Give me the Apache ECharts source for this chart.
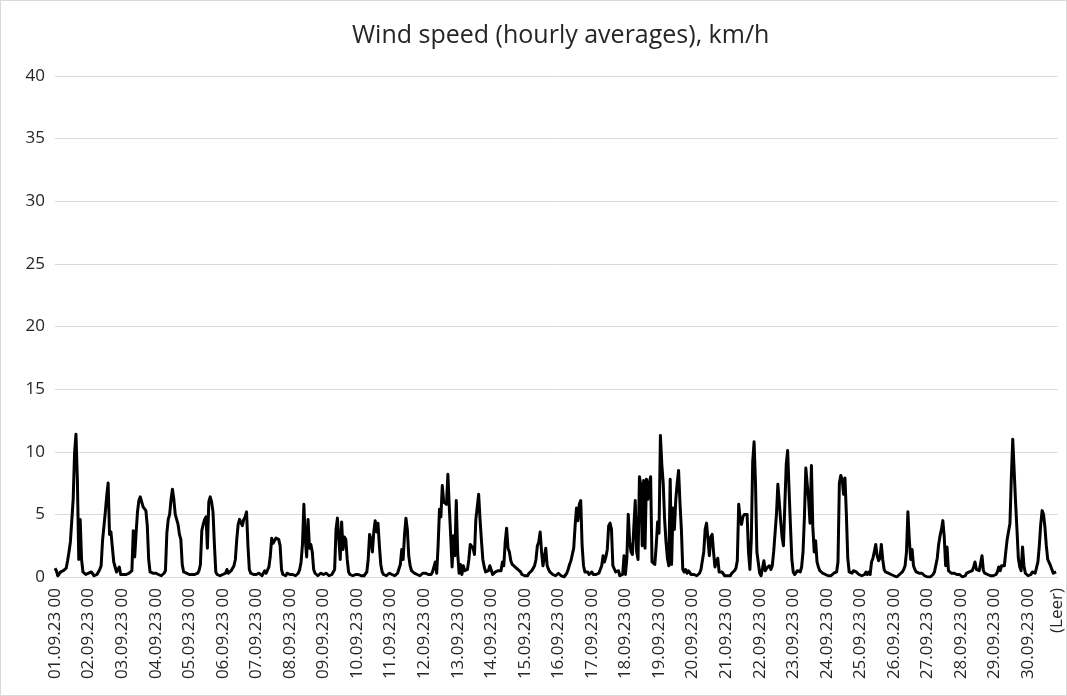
<!DOCTYPE html>
<html>
<head>
<meta charset="utf-8">
<script src="https://cdn.jsdelivr.net/npm/echarts@6/dist/echarts.min.js"></script>
<style>
html,body{margin:0;padding:0;background:#fff;}
#chart{width:1067px;height:696px;box-sizing:border-box;border:1px solid #d9d9d9;}
</style>
</head>
<body>
<div id="chart"></div>
<script>
const titleText = "Wind speed (hourly averages), km/h";
const dayLabels = ["01","02","03","04","05","06","07","08","09","10","11","12","13","14","15",
  "16","17","18","19","20","21","22","23","24","25","26","27","28","29","30"];
const emptyLabel = "(Leer)";
const yTicks = { min: 0, max: 40, interval: 5 };

// hourly averages per day (km/h), hours 00..23
const day01 = [0.7,0.5,0.1,0.2,0.4,0.5,0.5,0.5,0.7,1.3,2.0,2.8,4.5,6.2,9.9,11.4,7.8,1.4,4.6,1.4,0.4,0.3,0.2,0.2];
const day02 = [0.3,0.2,0.4,0.3,0.1,0.1,0.2,0.3,0.6,0.9,2.9,3.0,5.2,6.5,7.5,3.4,3.6,3.6,1.2,0.8,0.4,0.3,0.8,0.2];
const day03 = [0.2,0.2,0.1,0.2,0.3,0.3,0.4,0.5,3.7,1.6,3.5,5.2,6.1,6.4,6.5,5.6,5.5,5.3,4.1,1.4,0.4,0.3,0.3,0.3];
const day04 = [0.3,0.3,0.2,0.2,0.1,0.2,0.3,0.5,3.5,4.6,5.0,6.2,7.0,6.2,5.0,4.9,4.2,3.4,3.0,1.0,0.4,0.3,0.3,0.2];
const day05 = [0.2,0.3,0.2,0.1,0.2,0.2,0.3,0.5,1.0,3.7,4.2,4.6,4.8,2.3,6.0,6.4,6.0,5.2,2.6,0.4,0.2,0.2,0.1,0.2];
const day06 = [0.2,0.3,0.3,0.6,0.3,0.4,0.5,0.5,0.9,1.4,3.0,4.2,4.6,4.7,4.1,4.6,4.8,5.2,2.5,0.6,0.3,0.2,0.2,0.3];
const day07 = [0.2,0.2,0.3,0.2,0.1,0.2,0.5,0.3,0.3,0.8,1.7,3.1,2.7,2.6,3.1,3.2,3.0,2.5,0.6,0.2,0.2,0.1,0.3,0.2];
const day08 = [0.2,0.3,0.2,0.2,0.1,0.2,0.3,0.6,1.2,2.6,5.8,3.0,1.6,4.6,2.3,2.6,2.0,0.6,0.3,0.2,0.1,0.2,0.3,0.2];
const day09 = [0.2,0.2,0.3,0.2,0.1,0.0,0.2,0.4,0.6,3.8,4.7,3.0,1.4,4.4,2.2,3.2,3.0,1.4,0.4,0.2,0.2,0.1,0.1,0.2];
const day10 = [0.3,0.2,0.2,0.1,0.1,0.1,0.2,0.4,1.4,3.4,3.0,2.0,3.6,4.5,3.6,4.3,2.5,1.0,0.4,0.2,0.1,0.1,0.2,0.3];
const day11 = [0.2,0.2,0.1,0.1,0.2,0.3,0.4,1.0,2.2,1.4,3.4,4.7,3.8,1.7,0.9,0.5,0.4,0.3,0.2,0.2,0.2,0.1,0.2,0.3];
const day12 = [0.2,0.3,0.4,0.2,0.1,0.2,0.4,0.5,1.2,0.3,2.5,5.4,4.8,7.3,6.0,5.9,5.8,8.2,5.6,3.3,0.8,3.3,1.7,6.1];
const day13 = [1.9,0.3,1.0,0.2,0.9,0.5,0.5,0.6,1.4,2.6,2.6,2.3,1.8,4.6,4.6,6.6,4.6,2.9,1.4,0.8,0.4,0.4,0.5,0.9];
const day14 = [0.9,0.2,0.3,0.4,0.5,0.5,0.4,0.5,1.2,0.9,2.8,3.9,2.3,2.0,1.3,1.0,0.9,0.8,0.7,0.6,0.5,0.4,0.2,0.1];
const day15 = [0.1,0.0,0.1,0.3,0.4,0.5,0.4,0.9,1.4,2.5,2.8,3.6,2.0,0.9,0.9,2.3,0.9,0.6,0.4,0.3,0.2,0.2,0.1,0.1];
const day16 = [0.3,0.2,0.1,0.1,0.0,0.1,0.3,0.6,1.0,1.3,1.2,2.3,4.1,5.5,4.5,5.8,6.1,2.5,0.9,0.4,0.4,0.4,0.2,0.3];
const day17 = [0.4,0.2,0.2,0.2,0.2,0.3,0.3,0.9,1.7,1.2,1.6,2.2,4.1,4.3,3.8,0.9,0.8,0.4,0.5,0.5,0.1,0.1,0.2,1.7];
const day18 = [0.2,1.5,5.0,2.8,2.0,1.8,4.0,6.1,2.0,1.4,8.0,7.3,2.5,7.7,2.3,7.8,6.2,7.5,8.0,1.2,1.1,1.0,2.5,4.4];
const day19 = [3.5,11.3,9.0,7.5,4.6,2.8,1.5,0.9,7.8,1.0,5.5,3.8,6.2,7.5,8.5,5.9,3.8,0.6,0.4,0.6,0.3,0.5,0.4,0.2];
const day20 = [0.1,0.2,0.2,0.1,0.2,0.3,0.6,1.3,2.0,3.8,4.3,3.0,1.7,3.2,3.4,2.0,0.8,1.2,1.5,0.4,0.3,0.4,0.3,0.1];
const day21 = [0.2,0.1,0.0,0.1,0.3,0.4,0.5,0.7,1.3,5.8,4.7,4.2,4.8,5.0,5.1,5.0,2.0,0.6,3.0,9.2,10.8,7.5,2.0,1.9];
const day22 = [0.3,0.1,0.1,1.3,0.5,0.7,0.8,0.9,0.6,0.9,2.0,3.5,5.0,7.4,6.0,4.5,3.2,2.5,5.8,9.0,10.1,7.0,4.1,1.4];
const day23 = [0.4,0.2,0.3,0.5,0.6,0.4,0.8,2.0,4.8,8.7,7.4,6.2,4.3,8.9,4.0,2.0,2.9,1.2,0.8,0.5,0.4,0.3,0.2,0.2];
const day24 = [0.1,0.1,0.1,0.1,0.2,0.3,0.3,0.4,1.2,7.5,8.1,7.8,6.6,7.9,5.0,1.5,0.4,0.5,0.3,0.5,0.5,0.4,0.3,0.2];
const day25 = [0.1,0.1,0.1,0.2,0.4,0.2,0.4,0.2,1.2,1.5,1.6,2.6,1.7,1.3,1.5,2.6,1.4,0.6,0.4,0.3,0.3,0.4,0.2,0.1];
const day26 = [0.1,0.0,0.0,0.1,0.2,0.3,0.4,0.6,0.9,2.0,5.2,3.0,1.4,2.2,0.9,0.6,0.4,0.5,0.3,0.4,0.3,0.2,0.1,0.0];
const day27 = [0.0,0.0,0.0,0.1,0.2,0.4,0.5,1.5,2.6,3.3,3.8,4.5,3.2,0.9,2.4,0.5,0.4,0.3,0.3,0.3,0.4,0.2,0.2,0.2];
const day28 = [0.1,0.0,0.1,0.1,0.3,0.4,0.4,0.5,0.5,0.8,1.2,0.6,0.5,0.5,0.4,1.7,0.5,0.3,0.2,0.2,0.2,0.1,0.1,0.1];
const day29 = [0.1,0.2,0.4,0.8,0.5,0.9,0.8,0.9,2.0,3.0,3.1,4.3,8.0,11.0,8.5,6.0,3.8,1.5,0.8,0.5,2.4,0.9,0.3,0.2];
const day30 = [0.1,0.1,0.2,0.4,0.5,0.3,0.3,1.2,2.5,4.2,5.3,5.0,4.0,2.5,1.4,1.3,0.9,0.6,0.3,0.4,0.4];

const days = [day01,day02,day03,day04,day05,day06,day07,day08,day09,day10,day11,day12,day13,day14,day15,
  day16,day17,day18,day19,day20,day21,day22,day23,day24,day25,day26,day27,day28,day29,day30];

const categories = [];
const values = [];
days.forEach((arr, di) => {
  arr.forEach((v, h) => {
    categories.push(dayLabels[di] + ".09.23 " + String(h).padStart(2, "0"));
    values.push(v);
  });
});
categories.push(emptyLabel);
values.push(null);

const FONT = "Open Sans";
const chart = echarts.init(document.getElementById('chart'));
chart.setOption({
  animation: false,
  title: {
    text: titleText, left: 346, top: 17,
    textStyle: { fontFamily: FONT, fontSize: 25, fontWeight: 'normal', color: '#262626' }
  },
  grid: { left: 54, right: 5, top: 75, bottom: 118, containLabel: false },
  xAxis: {
    type: 'category', data: categories, boundaryGap: false,
    axisLine: { lineStyle: { color: '#d9d9d9', width: 1 } },
    axisTick: { show: false },
    axisLabel: {
      rotate: 90, margin: 11, fontFamily: FONT, fontSize: 17, color: '#262626',
      interval: (i) => i % 24 === 0 || i === categories.length - 1
    },
    splitLine: { show: false }
  },
  yAxis: {
    type: 'value', min: yTicks.min, max: yTicks.max, interval: yTicks.interval,
    axisLine: { show: false }, axisTick: { show: false },
    axisLabel: { fontFamily: FONT, fontSize: 17, color: '#262626', margin: 10 },
    splitLine: { lineStyle: { color: '#d9d9d9', width: 1 } }
  },
  series: [{
    type: 'line', data: values, showSymbol: false, connectNulls: false,
    lineStyle: { color: '#000', width: 3, join: 'round' },
    itemStyle: { color: '#000' }
  }]
});
</script>
</body>
</html>
